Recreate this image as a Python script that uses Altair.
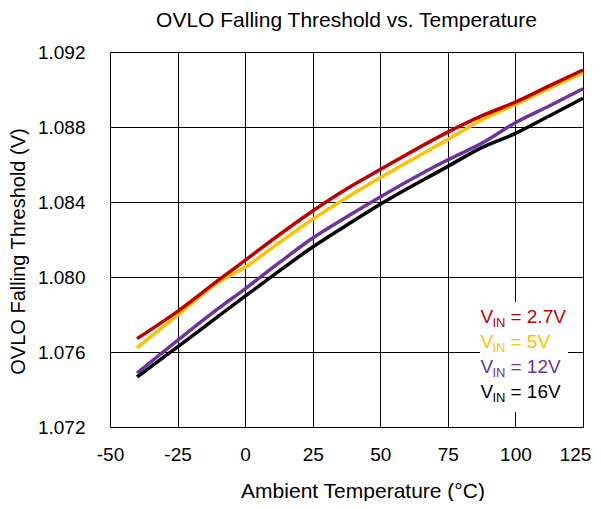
import altair as alt
import pandas as pd

# ---- data ----
temps = [-40, -25, -10, 0, 12.5, 25, 37.5, 50, 75, 87.5, 100, 112.5, 125]
v_2p7 = [1.07671, 1.07817, 1.07982, 1.08089, 1.08224, 1.08352, 1.08469, 1.08573,
         1.08773, 1.08859, 1.08933, 1.09019, 1.09104]
v_5 = [1.07623, 1.07796, 1.07970, 1.08052, 1.08182, 1.08308, 1.08423, 1.08530,
       1.08734, 1.08837, 1.08921, 1.09006, 1.09090]
v_12 = [1.07488, 1.07662, 1.07831, 1.07937, 1.08075, 1.08208, 1.08320, 1.08427,
        1.08625, 1.08713, 1.08823, 1.08912, 1.09004]
v_16 = [1.07467, 1.07627, 1.07790, 1.07898, 1.08031, 1.08160, 1.08276, 1.08388,
        1.08590, 1.08690, 1.08766, 1.08859, 1.08953]

series_names = ["16V", "12V", "5V", "2.7V"]          # draw order (red on top)
series_values = [v_16, v_12, v_5, v_2p7]
series_colors = ["#000000", "#7030A0", "#FFC000", "#C00000"]

x_ticks = [-50, -25, 0, 25, 50, 75, 100, 125]
y_ticks = [1.072, 1.076, 1.080, 1.084, 1.088, 1.092]

legend_order = ["2.7V", "5V", "12V", "16V"]

FONT = "Liberation Sans"

rows = []
for name, vals in zip(series_names, series_values):
    for t, v in zip(temps, vals):
        rows.append({"series": name, "temp": t, "vth": v})
df = pd.DataFrame(rows)

W, H = 473, 375

x_enc = alt.X(
    "temp:Q",
    scale=alt.Scale(domain=[-50, 125], nice=False, zero=False),
    axis=alt.Axis(
        values=x_ticks, labelExpr="'' + datum.value", grid=True, gridColor="black",
        gridWidth=1, gridOpacity=1, ticks=False, tickSize=0, domain=False,
        labelFont=FONT, labelFontSize=19, labelColor="black",
        labelBaseline="alphabetic", labelPadding=33, labelFlush=False,
        labelOverlap=False,
        labelOffset=alt.ConditionalAxisNumber(
            condition={"test": "datum.value == 125", "value": -8}, value=0),
        title="Ambient Temperature (°C)", titleFont=FONT, titleFontSize=21,
        titleFontWeight="normal", titleColor="black",
        titleX=252.5, titleY=70, titleBaseline="alphabetic", titleAlign="center",
    ),
)
y_enc = alt.Y(
    "vth:Q",
    scale=alt.Scale(domain=[1.072, 1.092], nice=False, zero=False),
    axis=alt.Axis(
        values=y_ticks, format=".3f", grid=True, gridColor="black", gridWidth=1,
        gridOpacity=1, ticks=False, tickSize=0, domain=False,
        labelFont=FONT, labelFontSize=19, labelColor="black", labelPadding=25,
        labelFlush=False, labelOverlap=False,
        title="OVLO Falling Threshold (V)", titleFont=FONT, titleFontSize=20,
        titleFontWeight="normal", titleColor="black",
        titleX=-86, titleY=199, titleAngle=270, titleBaseline="alphabetic",
        titleAlign="center",
    ),
)

lines = alt.Chart(df).mark_line(strokeWidth=3.5, interpolate="monotone").encode(
    x=x_enc,
    y=y_enc,
    color=alt.Color("series:N", scale=alt.Scale(domain=series_names, range=series_colors),
                    legend=None),
)

one = pd.DataFrame({"k": [0]})
legend_bg = alt.Chart(one).mark_rect(color="white").encode(
    x=alt.value(370), x2=alt.value(458), y=alt.value(250), y2=alt.value(360)
)

layers = [legend_bg, lines]
color_of = dict(zip(series_names, series_colors))
for i, name in enumerate(legend_order):
    base_y = 270.5 + 25 * i
    c = color_of[name]
    layers.append(alt.Chart(one).mark_text(text="V", font=FONT, fontSize=19, color=c,
                                           align="left", baseline="alphabetic")
                  .encode(x=alt.value(370.5), y=alt.value(base_y)))
    layers.append(alt.Chart(one).mark_text(text="IN", font=FONT, fontSize=13, color=c,
                                           align="left", baseline="alphabetic")
                  .encode(x=alt.value(382.5), y=alt.value(base_y + 4)))
    layers.append(alt.Chart(one).mark_text(text="= " + name, font=FONT, fontSize=19, color=c,
                                           align="left", baseline="alphabetic")
                  .encode(x=alt.value(400.5), y=alt.value(base_y)))

chart = alt.layer(*layers).properties(
    width=W, height=H,
    title=alt.TitleParams("OVLO Falling Threshold vs. Temperature", font=FONT,
                          fontSize=21, fontWeight="normal", color="black",
                          anchor="middle", offset=12),
    padding={"left": 102, "top": 44, "right": 10, "bottom": 74},
    autosize=alt.AutoSizeParams(type="none"),
).configure_view(stroke="black", strokeWidth=2.5).configure(background="white")

chart.save("out.html", embed_options={"renderer": "svg", "actions": False})
